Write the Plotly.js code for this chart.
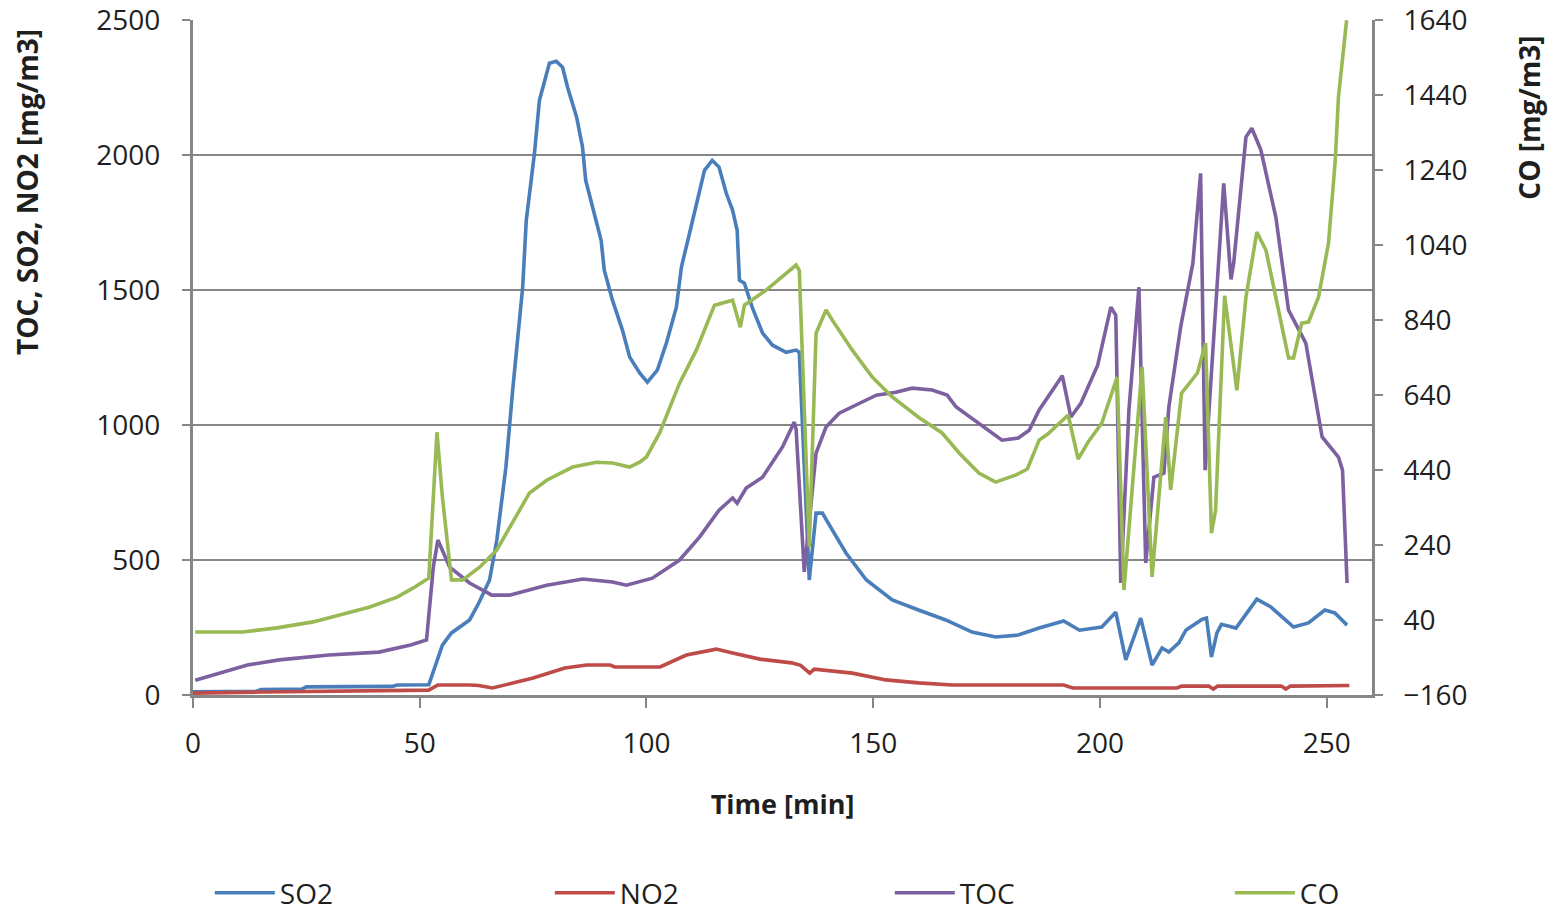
<!DOCTYPE html>
<html>
<head>
<meta charset="utf-8">
<script src="https://cdn.plot.ly/plotly-3.0.1.min.js"></script>
<style>
  html, body { margin: 0; padding: 0; background: #ffffff; }
  #chart { width: 1558px; height: 916px; }
</style>
</head>
<body>
<div id="chart"></div>
<script>
// ---- data ----
const timeSO2 = [0, 14, 15, 24, 25, 44, 45, 52, 55, 57, 61, 63, 65.4, 67, 69, 70.5, 72.7, 73.5, 75.3, 76.4, 78.6, 80.1, 81.5, 82.6, 84.6, 85.9, 86.6, 88.1, 90, 90.7, 92.5, 94.7, 96.3, 98.5, 100.2, 102.4, 104.4, 106.6, 107.7, 109.5, 111.7, 112.8, 114.5, 116, 117.6, 119, 120, 120.5, 121.6, 123.3, 125.6, 127.8, 130.8, 133, 133.7, 135.9, 137.4, 138.8, 141, 144, 148.5, 154.2, 160, 166, 171.8, 177, 182, 186.6, 192, 195.5, 200.4, 203.5, 205.7, 209, 211.5, 213.7, 215.2, 217.4, 219, 221, 222.5, 223.5, 224.6, 225.8, 226.8, 228.5, 230, 234.6, 237.7, 242.7, 246, 249.6, 251.8, 254.5];
const SO2 = [12, 14, 20, 22, 30, 32, 37, 38, 185, 230, 278, 340, 426, 574, 844, 1130, 1511, 1759, 2007, 2204, 2341, 2348, 2326, 2252, 2141, 2030, 1907, 1807, 1685, 1574, 1463, 1352, 1252, 1193, 1159, 1204, 1304, 1437, 1585, 1711, 1859, 1944, 1981, 1956, 1859, 1796, 1722, 1537, 1526, 1437, 1341, 1296, 1270, 1278, 1270, 426, 674, 674, 611, 526, 426, 352, 315, 278, 233, 215, 222, 248, 274, 240, 252, 307, 130, 285, 111, 174, 159, 193, 241, 262, 280, 285, 141, 230, 262, 255, 248, 355, 326, 252, 267, 315, 304, 259];

const timeNO2 = [0, 14, 15, 52, 54, 61, 63, 66, 68, 70.5, 75, 82, 86.8, 92, 93, 103, 108.8, 111.7, 115.4, 119, 125, 132, 134, 136, 137, 145.4, 152.8, 160, 167.4, 192, 194, 217, 218, 224, 225, 226, 240, 241, 242, 255];
const NO2 = [7, 8, 11, 18, 37, 37, 35, 26, 33, 44, 63, 100, 111, 111, 104, 104, 148, 159, 170, 156, 133, 119, 110, 81, 96, 81, 56, 45, 37, 37, 26, 26, 33, 33, 22, 33, 33, 22, 33, 35];

const timeTOC = [0.5, 12, 19, 30, 41, 48, 51.5, 53, 54, 56.6, 61, 65.9, 69.8, 78, 86, 92.5, 95.6, 98.5, 101.3, 107.3, 111.7, 116, 119, 120, 122, 125.6, 130, 132.6, 133, 134.8, 137.4, 139.6, 142.5, 147, 150.7, 155, 158.6, 163, 166.3, 168.3, 173.3, 178.4, 182, 184.4, 186.6, 191.7, 193.6, 195.8, 199.5, 202.4, 203.5, 204.6, 206.4, 208.6, 210.1, 211.9, 214.1, 215.2, 217.8, 220.5, 222.2, 223.2, 227.3, 228.9, 229.5, 232.2, 233.5, 235.5, 238.8, 241.6, 245.4, 247.6, 249, 252.6, 253.5, 254.5];
const TOC = [55, 111, 130, 148, 159, 185, 204, 474, 574, 474, 415, 370, 370, 407, 430, 419, 407, 419, 433, 500, 585, 685, 730, 711, 767, 807, 919, 1011, 985, 456, 896, 993, 1044, 1081, 1111, 1122, 1137, 1130, 1111, 1067, 1007, 944, 952, 981, 1056, 1183, 1030, 1081, 1222, 1437, 1407, 415, 1056, 1511, 489, 807, 822, 1067, 1363, 1600, 1933, 833, 1896, 1540, 1600, 2067, 2100, 2019, 1770, 1426, 1304, 1093, 956, 881, 833, 415];

const timeCO = [0.5, 11, 18.5, 26.5, 34, 39, 45, 48.5, 52, 53.8, 55, 57, 59.5, 63.2, 67, 70.5, 74.2, 78, 83.7, 89, 92.5, 96.3, 98.5, 100, 102.9, 107.3, 111, 115, 119, 120.7, 121.6, 126.4, 130, 133, 133.7, 135.9, 137.4, 139.6, 141, 145.4, 149.8, 154.2, 160, 165.2, 169, 173.3, 177, 181.5, 184, 186.6, 188.5, 193, 195.2, 197.4, 200.4, 203.8, 205.3, 209.3, 211.5, 214.5, 215.6, 218, 221.5, 223.3, 224.6, 225.5, 227.5, 230.2, 232.2, 234.6, 236.6, 239.4, 241.6, 242.7, 244.5, 246, 248.2, 250.4, 251.9, 252.6, 254.4];
const CO = [8, 8, 19, 35, 59, 75, 101, 125, 152, 541, 368, 147, 147, 181, 227, 299, 379, 413, 448, 461, 459, 448, 461, 475, 539, 672, 760, 880, 893, 821, 880, 920, 955, 987, 973, 235, 805, 867, 840, 760, 688, 635, 581, 539, 485, 432, 408, 427, 443, 520, 536, 587, 469, 515, 565, 688, 120, 715, 155, 581, 387, 645, 699, 779, 272, 333, 905, 653, 901, 1075, 1027, 867, 739, 739, 832, 835, 901, 1045, 1267, 1435, 1640];

const seriesNames = ['SO2', 'NO2', 'TOC', 'CO'];
const seriesColors = ['#4a7ebb', '#be4b48', '#7d60a0', '#98b954'];

// ---- chart ----
const lineW = 3.6;
const traces = [
  {x: timeSO2, y: SO2, name: seriesNames[0], type: 'scatter', mode: 'lines', line: {color: seriesColors[0], width: lineW}, yaxis: 'y'},
  {x: timeNO2, y: NO2, name: seriesNames[1], type: 'scatter', mode: 'lines', line: {color: seriesColors[1], width: lineW}, yaxis: 'y'},
  {x: timeTOC, y: TOC, name: seriesNames[2], type: 'scatter', mode: 'lines', line: {color: seriesColors[2], width: lineW}, yaxis: 'y'},
  {x: timeCO, y: CO, name: seriesNames[3], type: 'scatter', mode: 'lines', line: {color: seriesColors[3], width: lineW}, yaxis: 'y2'}
];

const axisGrey = '#868686';
const tickFont = {family: 'Open Sans, sans-serif', size: 28, color: '#1f1f1f'};
const titleFont = {family: 'Open Sans, sans-serif', size: 27, color: '#1f1f1f', weight: 'bold'};
const yTitleFont = {family: 'Open Sans, sans-serif', size: 28, color: '#1f1f1f', weight: 'bold'};

const layout = {
  width: 1558,
  height: 916,
  paper_bgcolor: '#ffffff',
  plot_bgcolor: '#ffffff',
  margin: {l: 193, r: 186, t: 20, b: 221, autoexpand: false},
  showlegend: true,
  legend: {
    orientation: 'h',
    x: -0.001, xanchor: 'left',
    y: -0.2933, yanchor: 'middle',
    entrywidth: 247, entrywidthmode: 'pixels',
    itemwidth: 60,
    indentation: 18,
    font: {family: 'Open Sans, sans-serif', size: 28, color: '#1f1f1f'},
    traceorder: 'normal'
  },
  xaxis: {
    range: [0, 260],
    tick0: 0, dtick: 50,
    showgrid: false,
    zeroline: false,
    showline: true, linecolor: axisGrey, linewidth: 3,
    ticks: 'outside', ticklen: 10, tickwidth: 2, tickcolor: axisGrey,
    ticklabelstandoff: 11,
    tickfont: tickFont,
    title: {text: 'Time [min]', font: titleFont, standoff: 36}
  },
  yaxis: {
    range: [0, 2501],
    tick0: 0, dtick: 500,
    showgrid: true, gridcolor: axisGrey, gridwidth: 2,
    zeroline: false,
    showline: true, linecolor: axisGrey, linewidth: 3,
    ticks: 'outside', ticklen: 8, tickwidth: 2, tickcolor: axisGrey,
    ticklabelstandoff: 16,
    tickfont: tickFont
  },
  yaxis2: {
    range: [-160, 1640.72],
    tick0: -160, dtick: 200,
    overlaying: 'y', side: 'right',
    showgrid: false,
    zeroline: false,
    showline: true, linecolor: axisGrey, linewidth: 3,
    ticks: 'outside', ticklen: 8, tickwidth: 2, tickcolor: axisGrey,
    ticklabelstandoff: 15,
    tickfont: tickFont
  },
  annotations: [
    {text: 'TOC, SO2, NO2 [mg/m3]', textangle: -90, xref: 'paper', yref: 'paper',
     x: -0.141, y: 0.745, xanchor: 'center', yanchor: 'middle', showarrow: false, font: yTitleFont},
    {text: 'CO [mg/m3]', textangle: -90, xref: 'paper', yref: 'paper',
     x: 1.133, y: 0.855, xanchor: 'center', yanchor: 'middle', showarrow: false, font: yTitleFont}
  ]
};

Plotly.newPlot('chart', traces, layout, {displayModeBar: false, staticPlot: true});
</script>
</body>
</html>
